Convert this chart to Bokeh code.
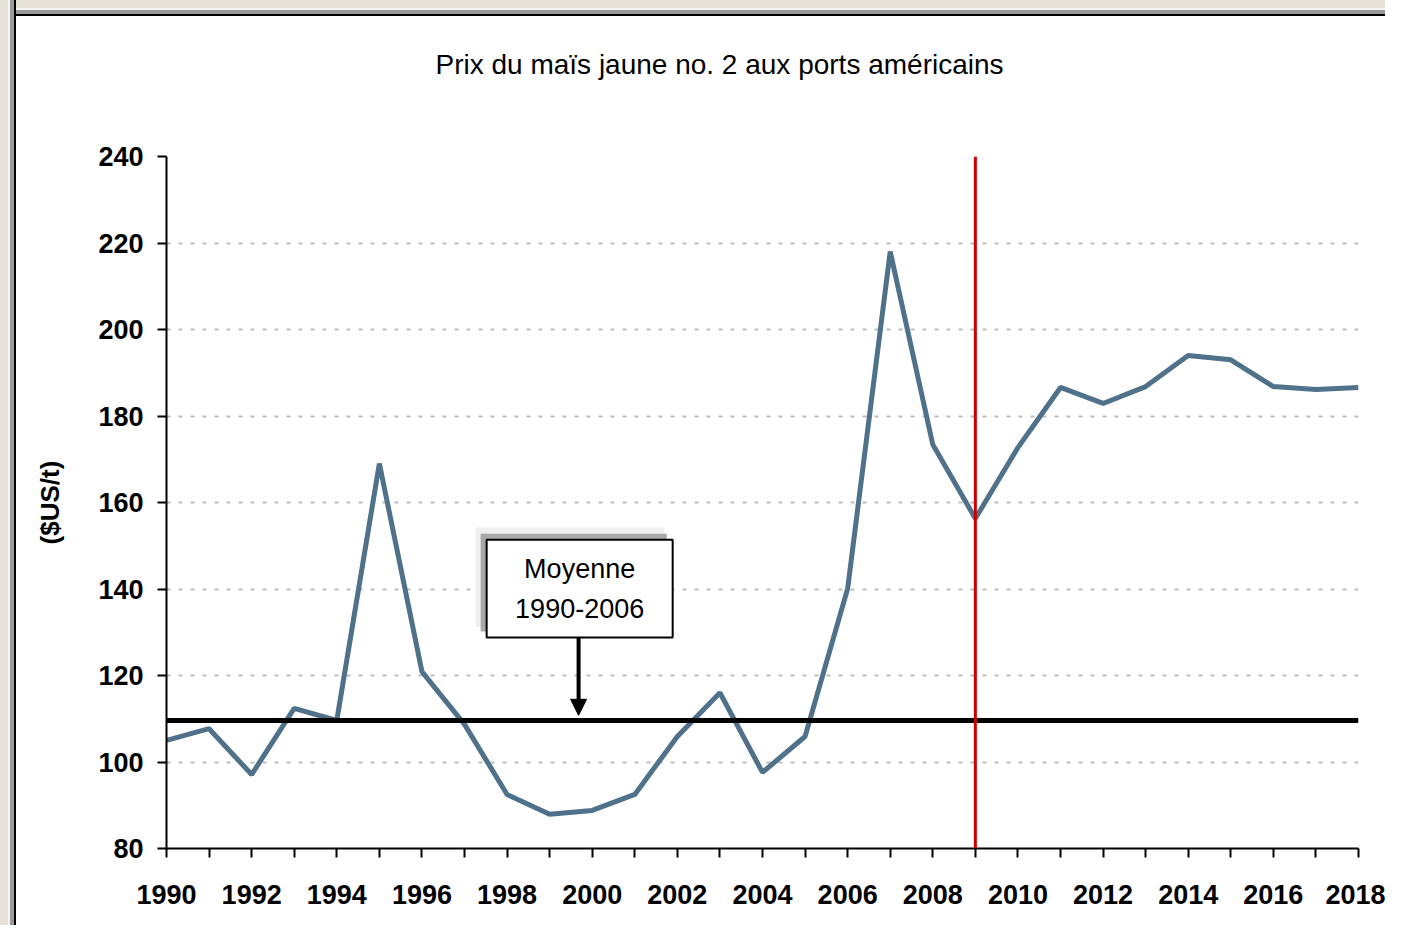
from bokeh.plotting import figure
from bokeh.models import Range1d, FixedTicker, Span, Label, Arrow, NormalHead, BoxAnnotation
from bokeh.embed import file_html
from bokeh.resources import INLINE

# ---- data ----
years = list(range(1990, 2019))
price = [105.0, 107.7, 97.1, 112.4, 109.6, 169.0, 120.9, 108.7, 92.5, 87.9,
         88.8, 92.5, 105.9, 116.0, 97.6, 105.9, 140.1, 218.0, 173.4, 156.3,
         172.7, 186.6, 182.9, 186.8, 194.0, 193.0, 186.8, 186.1, 186.6]
average_1990_2006 = 109.6
marker_year = 2009
y_ticks = [80, 100, 120, 140, 160, 180, 200, 220, 240]
title_text = "Prix du maïs jaune no. 2 aux ports américains"
y_label = "($US/t)"
box_lines = ["Moyenne", "1990-2006"]

FONT = "Liberation Sans"

p = figure(width=1385, height=925, output_backend="svg", toolbar_location=None,
           x_range=Range1d(1990, 2018), y_range=Range1d(80, 240),
           min_border_left=166, min_border_right=27, min_border_top=156, min_border_bottom=77)
p.outline_line_color = None
p.background_fill_color = "white"
p.border_fill_color = "white"
p.border_fill_alpha = 0
p.styles = {"background":
            "linear-gradient(to right, #e6e2d8 0px, #e6e2d8 8px, #f4f4f4 8px, #f4f4f4 10px, "
            "#9a9a9a 10px, #9a9a9a 14px, #000 14px, #000 16px, transparent 16px), "
            "linear-gradient(to bottom, #e6e2d8 0px, #e6e2d8 8px, #f4f4f4 8px, #f4f4f4 10px, "
            "#9a9a9a 10px, #9a9a9a 14px, #000 14px, #000 16px, #ffffff 16px)"}

# title: a second blank line lifts the text higher above the plot frame
p.title.text = title_text + "\n "
p.title.align = "left"
p.title.offset = 269
p.title.vertical_align = "top"
p.title.standoff = 88
p.title.text_font = FONT
p.title.text_font_size = "28px"
p.title.text_font_style = "normal"
p.title.text_color = "black"

# axes
p.xaxis.ticker = FixedTicker(ticks=years)
p.xaxis.major_label_overrides = {y: (str(y) if y % 2 == 0 else "") for y in years}
p.yaxis.ticker = FixedTicker(ticks=y_ticks)
for ax in (p.xaxis[0], p.yaxis[0]):
    ax.axis_line_color = "black"
    ax.axis_line_width = 2
    ax.major_tick_line_color = "black"
    ax.major_tick_line_width = 2
    ax.major_tick_in = 0
    ax.major_tick_out = 9
    ax.minor_tick_line_color = None
    ax.major_label_text_font = FONT
    ax.major_label_text_font_size = "27px"
    ax.major_label_text_font_style = "bold"
    ax.major_label_text_color = "black"
p.xaxis.major_label_standoff = 27
p.yaxis.major_label_standoff = 14
p.yaxis.axis_label = y_label
p.yaxis.axis_label_text_font = FONT
p.yaxis.axis_label_text_font_size = "26px"
p.yaxis.axis_label_text_font_style = "bold"
p.yaxis.axis_label_text_color = "black"
p.yaxis.axis_label_standoff = 30

p.xgrid.grid_line_color = None
p.ygrid.ticker = FixedTicker(ticks=y_ticks[1:])
p.ygrid.grid_line_color = "#bdbdbd"
p.ygrid.grid_line_width = 2
p.ygrid.grid_line_dash = "4 8"

# series
p.line(years, price, line_color="#4f7189", line_width=5)
p.add_layout(Span(location=average_1990_2006, dimension="width",
                  line_color="black", line_width=5))
p.add_layout(Span(location=marker_year, dimension="height",
                  line_color="#cc0000", line_width=3))

# annotation box with shadow
bx0, bx1, by0, by1 = 1997.52, 2001.89, 128.8, 151.4
p.add_layout(BoxAnnotation(left=bx0 - 0.26, right=bx1 - 0.2, bottom=by0 + 2.4, top=by1 + 2.8,
                           fill_color="#efefef", fill_alpha=1, line_color=None))
p.add_layout(BoxAnnotation(left=bx0 - 0.14, right=bx1 - 0.14, bottom=by0 + 1.4, top=by1 + 1.4,
                           fill_color="#a8a8a8", fill_alpha=1, line_color=None))
p.add_layout(BoxAnnotation(left=bx0, right=bx1, bottom=by0, top=by1,
                           fill_color="white", fill_alpha=1, line_color="black",
                           line_alpha=1, line_width=2))
cx = (bx0 + bx1) / 2
p.add_layout(Label(x=cx, y=144.7, text=box_lines[0], text_align="center", text_baseline="middle",
                   text_font=FONT, text_font_size="27px", text_color="black"))
p.add_layout(Label(x=cx, y=135.6, text=box_lines[1], text_align="center", text_baseline="middle",
                   text_font=FONT, text_font_size="27px", text_color="black"))
p.add_layout(Arrow(x_start=1999.68, y_start=by0, x_end=1999.68, y_end=110.8,
                   line_color="black", line_width=4,
                   end=NormalHead(size=16, fill_color="black", line_color="black", line_width=1)))

open("out.html", "w").write(file_html(p, INLINE))
